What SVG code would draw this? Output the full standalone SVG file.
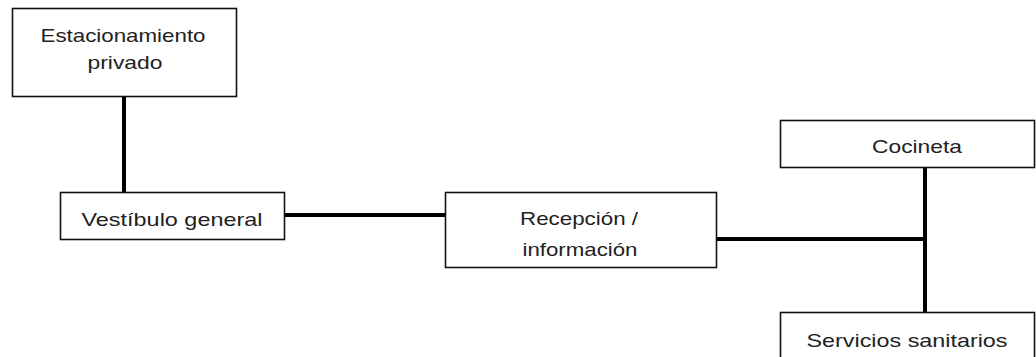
<svg xmlns="http://www.w3.org/2000/svg" width="1036" height="357" viewBox="0 0 1036 357">
<style>
.box{fill:#fff;stroke:#111;stroke-width:1.6}
.lbl{font-family:"Liberation Sans",Arial,sans-serif;font-size:19px;fill:#222;text-anchor:middle}
.conn{stroke:#000;stroke-width:4;fill:none}
</style>
<rect width="1036" height="357" fill="#fff"/>
<g id="connectors">
<line class="conn" x1="124" y1="96" x2="124" y2="193"/>
<line class="conn" x1="284" y1="215" x2="446" y2="215"/>
<line class="conn" x1="716" y1="239" x2="925" y2="239"/>
<line class="conn" x1="925" y1="167" x2="925" y2="313"/>
</g>
<g id="estacionamiento">
<rect class="box" x="12.5" y="8.5" width="224" height="88"/>
<text class="lbl" x="123" y="42" textLength="165" lengthAdjust="spacingAndGlyphs">Estacionamiento</text>
<text class="lbl" x="125" y="69" textLength="75" lengthAdjust="spacingAndGlyphs">privado</text>
</g>
<g id="vestibulo">
<rect class="box" x="60.5" y="192.5" width="224" height="47"/>
<text class="lbl" x="172" y="226" textLength="181" lengthAdjust="spacingAndGlyphs">Vestíbulo general</text>
</g>
<g id="recepcion">
<rect class="box" x="445.5" y="192.5" width="271" height="75"/>
<text class="lbl" x="579" y="225" textLength="118" lengthAdjust="spacingAndGlyphs">Recepción /</text>
<text class="lbl" x="580" y="256" textLength="115" lengthAdjust="spacingAndGlyphs">información</text>
</g>
<g id="cocineta">
<rect class="box" x="780.5" y="120.5" width="254" height="47"/>
<text class="lbl" x="917" y="153" textLength="90" lengthAdjust="spacingAndGlyphs">Cocineta</text>
</g>
<g id="servicios">
<rect class="box" x="780.5" y="312.5" width="254" height="47"/>
<text class="lbl" x="907" y="347" textLength="201" lengthAdjust="spacingAndGlyphs">Servicios sanitarios</text>
</g>
</svg>
